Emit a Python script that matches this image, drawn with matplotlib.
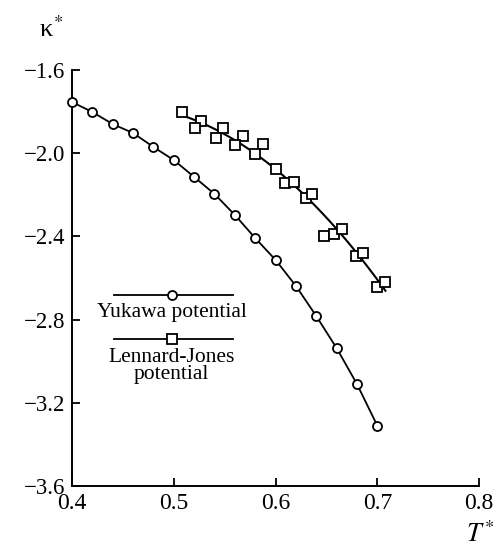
import numpy as np
import matplotlib.pyplot as plt
from matplotlib.lines import Line2D

plt.rcParams['font.family'] = ['Liberation Serif', 'DejaVu Serif']
plt.rcParams['mathtext.fontset'] = 'stix'

# Yukawa potential (circles)
yuk_T = [0.40, 0.42, 0.44, 0.46, 0.48, 0.50, 0.52, 0.54, 0.56,
         0.58, 0.60, 0.62, 0.64, 0.66, 0.68, 0.70]
yuk_k = [-1.754, -1.802, -1.860, -1.903, -1.970, -2.033, -2.114, -2.196, -2.297,
         -2.408, -2.513, -2.638, -2.783, -2.937, -3.110, -3.310]

# Lennard-Jones potential (squares)
lj_T = [0.508, 0.527, 0.521, 0.548, 0.541, 0.568, 0.560, 0.588, 0.580,
        0.600, 0.609, 0.618, 0.630, 0.636, 0.648, 0.657, 0.665,
        0.679, 0.686, 0.700, 0.708]
lj_k = [-1.803, -1.845, -1.880, -1.880, -1.927, -1.916, -1.962, -1.957, -2.005,
        -2.076, -2.142, -2.137, -2.217, -2.196, -2.398, -2.388, -2.364,
        -2.494, -2.481, -2.642, -2.618]

xticks = [0.4, 0.5, 0.6, 0.7, 0.8]
yticks = [-1.6, -2.0, -2.4, -2.8, -3.2, -3.6]

fig = plt.figure(figsize=(4.98, 5.53), dpi=100)
ax = fig.add_axes([0.1446, 0.1212, 0.8174, 0.7522])

ax.plot(yuk_T, yuk_k, '-', color='black', lw=1.3, marker='o', ms=6.5,
        mfc='white', mec='black', mew=1.3, clip_on=False, zorder=3)

# smooth fit through the Lennard-Jones points
c = np.polyfit(lj_T, lj_k, 2)
tt = np.linspace(min(lj_T), max(lj_T), 100)
ax.plot(tt, np.polyval(c, tt), '-', color='black', lw=1.5, zorder=2)
ax.plot(lj_T, lj_k, 's', ms=7.5, mfc='white', mec='black', mew=1.3, zorder=3)

ax.set_xlim(0.4, 0.8)
ax.set_ylim(-3.6, -1.6)
ax.set_xticks(xticks)
ax.set_xticklabels(['0.4', '0.5', '0.6', '0.7', '0.8'])
ax.set_yticks(yticks)
ax.set_yticklabels(['\u22121.6', '\u22122.0', '\u22122.4',
                    '\u22122.8', '\u22123.2', '\u22123.6'])
ax.spines['top'].set_visible(False)
ax.spines['right'].set_visible(False)
for s in ['left', 'bottom']:
    ax.spines[s].set_linewidth(1.4)
ax.tick_params(direction='in', length=6, width=1.3)
ax.tick_params(axis='x', pad=5, labelsize=17)
ax.tick_params(axis='y', pad=5, labelsize=16.5)

# legend drawn by hand: line with marker, label below
ax.add_line(Line2D([0.102, 0.396], [0.459, 0.459], transform=ax.transAxes,
                   color='black', lw=1.3))
ax.plot([0.245], [0.459], 'o', transform=ax.transAxes, ms=6.5,
        mfc='white', mec='black', mew=1.3)
ax.text(0.245, 0.418, 'Yukawa potential', transform=ax.transAxes,
        ha='center', va='center', fontsize=15.5)
ax.add_line(Line2D([0.102, 0.396], [0.353, 0.353], transform=ax.transAxes,
                   color='black', lw=1.3))
ax.plot([0.245], [0.353], 's', transform=ax.transAxes, ms=7.5,
        mfc='white', mec='black', mew=1.3)
ax.text(0.245, 0.288, 'Lennard-Jones\npotential', transform=ax.transAxes,
        ha='center', va='center', fontsize=15.5, linespacing=0.9)

fig.text(0.078, 0.948, '\u03ba$^{\\!*}$', fontsize=19, ha='left', va='center')
fig.text(0.935, 0.035, '$T^{\\!*}$', fontsize=19, ha='left', va='center')

fig.savefig('out.png', dpi=100)
